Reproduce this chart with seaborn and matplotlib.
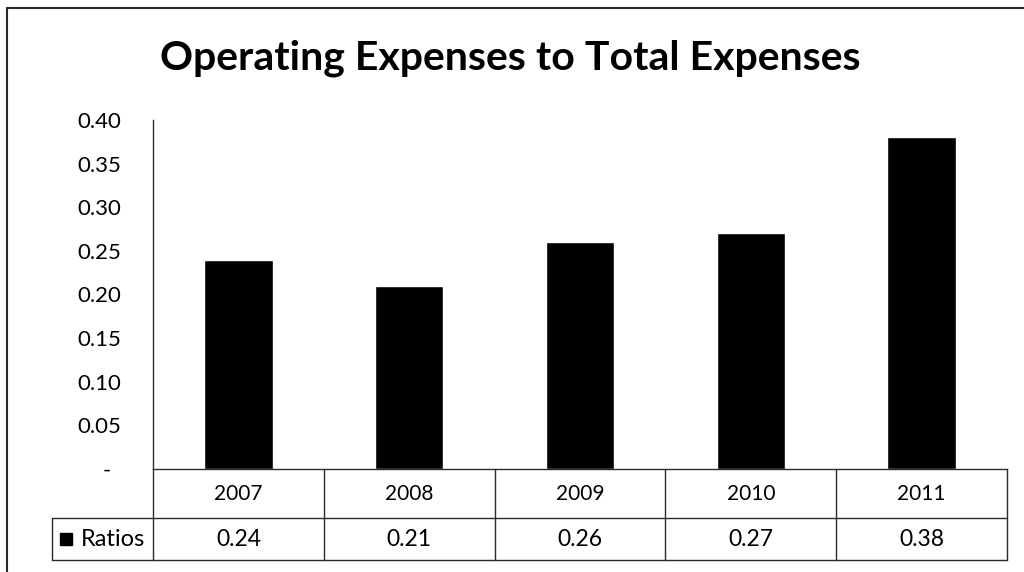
import matplotlib
matplotlib.use("Agg")
import matplotlib.pyplot as plt
import seaborn as sns
import pandas as pd
from matplotlib.lines import Line2D
from matplotlib.transforms import blended_transform_factory, ScaledTranslation

# --- data ---------------------------------------------------------------
years = ["2007", "2008", "2009", "2010", "2011"]
ratios = [0.24, 0.21, 0.26, 0.27, 0.38]
series_name = "Ratios"
title = "Operating Expenses to Total Expenses"
y_ticks = [0.00, 0.05, 0.10, 0.15, 0.20, 0.25, 0.30, 0.35, 0.40]
y_tick_labels = ["-" if v == 0 else f"{v:.2f}" for v in y_ticks]

# --- style --------------------------------------------------------------
sns.set_theme(style="white")
plt.rcParams["font.family"] = ["Lato", "DejaVu Sans"]
line_col = "#2b2b2b"

W, H = 1024, 572
fig = plt.figure(figsize=(W / 100, H / 100), dpi=100)
fig.patch.set_facecolor("white")

# plot area (pixel geometry of the chart frame)
left, right, top, bottom = 153, 1007, 120, 469
ax = fig.add_axes([left / W, 1 - bottom / H, (right - left) / W, (bottom - top) / H])

df = pd.DataFrame({"year": years, "ratio": ratios})
sns.barplot(data=df, x="year", y="ratio", color="black", saturation=1,
            width=0.4, ax=ax)

ax.set_xlim(-0.5, len(years) - 0.5)
ax.set_ylim(0, 0.40)
ax.set_xlabel("")
ax.set_ylabel("")
ax.tick_params(axis="x", length=0, labelbottom=False)
ax.set_yticks(y_ticks)
ax.set_yticklabels(y_tick_labels)
ax.tick_params(axis="y", length=0, pad=23, labelsize=16, labelcolor="black")
for side in ("top", "right"):
    ax.spines[side].set_visible(False)
for side in ("left", "bottom"):
    ax.spines[side].set_color(line_col)
    ax.spines[side].set_linewidth(1.0)

# nudge the zero dash leftwards (accounting-style placeholder)
zero_lbl = ax.get_yticklabels()[0]
zero_lbl.set_transform(zero_lbl.get_transform()
                       + ScaledTranslation(-10 / 100, 0, fig.dpi_scale_trans))

# --- data table below the plot -----------------------------------------
trans = blended_transform_factory(ax.transData, ax.transAxes)
plot_h = bottom - top
r1 = 49 / plot_h          # height of the category row
r2 = 91 / plot_h          # bottom of the value row
col_w = (right - left) / len(years)
label_left = -0.5 - (left - 52) / col_w
x0, x1 = -0.5, len(years) - 0.5

kw = dict(transform=trans, color=line_col, lw=1.0, clip_on=False)
ax.plot([x0, x1], [-r1, -r1], **kw)
ax.plot([x0, x1], [-r2, -r2], **kw)
ax.plot([label_left, x0], [-r1, -r1], **kw)
ax.plot([label_left, x0], [-r2, -r2], **kw)
ax.plot([label_left, label_left], [-r1, -r2], **kw)
for i in range(len(years) + 1):
    xb = i - 0.5
    ax.plot([xb, xb], [0, -r2], **kw)

for i, (yr, v) in enumerate(zip(years, ratios)):
    ax.text(i, -r1 / 2, yr, transform=trans, ha="center", va="center",
            fontsize=15, color="black")
    ax.text(i, -(r1 + r2) / 2, f"{v:.2f}", transform=trans, ha="center",
            va="center", fontsize=16.5, color="black")

# series key and name in the row header
key_x = -0.5 - (left - 66) / col_w
ax.plot([key_x], [-(r1 + r2) / 2], marker="s", markersize=8.5, color="black",
        transform=trans, clip_on=False)
ax.text(-0.5 - (left - 81) / col_w, -(r1 + r2) / 2, series_name, transform=trans,
        ha="left", va="center", fontsize=17, color="black")

# --- title --------------------------------------------------------------
fig.text(510 / W, 1 - 58 / H, title, ha="center", va="center",
         fontsize=29.5, fontweight="bold", color="black")

# chart frame edges (left and top)
fig.add_artist(Line2D([7 / W, 7 / W], [0, 1 - 8 / H], color=line_col, lw=1.5))
fig.add_artist(Line2D([7 / W, 1], [1 - 8 / H, 1 - 8 / H], color=line_col, lw=1.5))

fig.savefig("out.png", dpi=100, facecolor="white")
